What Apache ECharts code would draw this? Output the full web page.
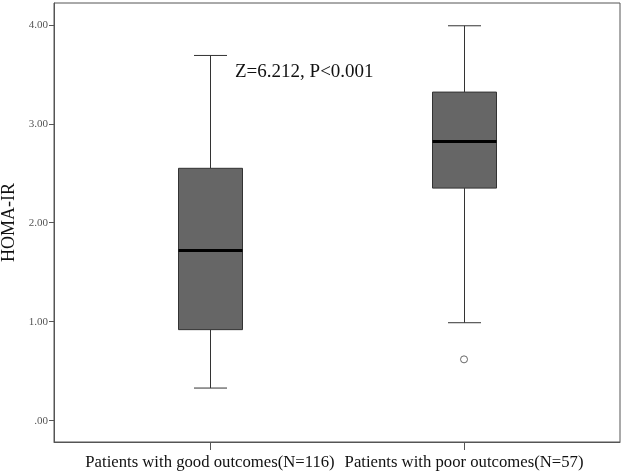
<!DOCTYPE html>
<html>
<head>
<meta charset="utf-8">
<script src="https://cdn.jsdelivr.net/npm/echarts@6/dist/echarts.min.js"></script>
<style>
  html, body { margin: 0; padding: 0; background: #fff; }
  #chart { width: 623px; height: 474px; }
</style>
</head>
<body>
<div id="chart"></div>
<script>
// groups and their x positions on the base axis
var groups = ["Patients with good outcomes(N=116)", "Patients with poor outcomes(N=57)"];
var groupPos = [1, 2];
// [min, Q1, median, Q3, max]
var boxStats = [
  [0.33, 0.92, 1.72, 2.55, 3.69],
  [0.99, 2.35, 2.82, 3.32, 3.99]
];
var outliers = [[2, 0.62]];
var yTicks = [0, 1, 2, 3, 4];

var chart = echarts.init(document.getElementById("chart"));

var boxData = boxStats.map(function (s, i) {
  return [groupPos[i]].concat(s);
});

// SPSS-like box: half-width whisker caps, thick median line
function renderBox(params, api) {
  var x = api.value(0);
  var pMin = api.coord([x, api.value(1)]);
  var pQ1 = api.coord([x, api.value(2)]);
  var pMed = api.coord([x, api.value(3)]);
  var pQ3 = api.coord([x, api.value(4)]);
  var pMax = api.coord([x, api.value(5)]);
  var cx = Math.round(pMin[0]) + 0.5;
  var hw = 32, cw = 16.5;
  var lineStyle = { stroke: "#333", lineWidth: 1 };
  return {
    type: "group",
    children: [
      { type: "line", shape: { x1: cx, y1: pMax[1], x2: cx, y2: pQ3[1] }, style: lineStyle },
      { type: "line", shape: { x1: cx, y1: pQ1[1], x2: cx, y2: pMin[1] }, style: lineStyle },
      { type: "line", shape: { x1: cx - cw, y1: pMax[1], x2: cx + cw, y2: pMax[1] }, style: lineStyle },
      { type: "line", shape: { x1: cx - cw, y1: pMin[1], x2: cx + cw, y2: pMin[1] }, style: lineStyle },
      { type: "rect", shape: { x: cx - hw, y: pQ3[1], width: hw * 2, height: pQ1[1] - pQ3[1] },
        style: { fill: "#666666", stroke: "#333", lineWidth: 1 } },
      { type: "line", shape: { x1: cx - hw, y1: pMed[1], x2: cx + hw, y2: pMed[1] },
        style: { stroke: "#000", lineWidth: 3 } }
    ]
  };
}

var option = {
  animation: false,
  grid: {
    left: 54, right: 3, top: 3, bottom: 32,
    outerBoundsMode: "none",
    containLabel: false,
    show: true, borderColor: "#555", borderWidth: 1
  },
  xAxis: {
    type: "value",
    min: 0.386,
    max: 2.614,
    splitLine: { show: false },
    axisLine: { show: true, onZero: false, lineStyle: { color: "#555" } },
    axisTick: { show: true, length: 8, customValues: groupPos, lineStyle: { color: "#555" } },
    axisLabel: {
      customValues: groupPos,
      margin: 12,
      fontFamily: "Liberation Serif",
      fontSize: 16.7,
      color: "#111",
      formatter: function (v) { return groups[groupPos.indexOf(v)] || ""; }
    }
  },
  yAxis: {
    type: "value",
    min: -0.215,
    max: 4.22,
    name: "HOMA-IR",
    nameLocation: "middle",
    nameGap: 31,
    nameTextStyle: { fontFamily: "Liberation Serif", fontSize: 18, color: "#111" },
    splitLine: { show: false },
    axisLine: { show: true, onZero: false, lineStyle: { color: "#555" } },
    axisTick: { show: true, length: 5, customValues: yTicks, lineStyle: { color: "#555" } },
    axisLabel: {
      customValues: yTicks,
      margin: 6,
      fontFamily: "Liberation Serif",
      fontSize: 11,
      color: "#555",
      formatter: function (v) { return v === 0 ? ".00" : v.toFixed(2); }
    }
  },
  graphic: [{
    type: "text",
    left: 235,
    top: 63,
    style: { text: "Z=6.212, P<0.001", font: "19px 'Liberation Serif'", fill: "#111" }
  }],
  series: [
    {
      type: "custom",
      data: boxData,
      encode: { x: 0, y: [1, 2, 3, 4, 5] },
      renderItem: renderBox
    },
    {
      type: "scatter",
      symbol: "circle",
      symbolSize: 7,
      data: outliers,
      itemStyle: { color: "#fff", borderColor: "#444", borderWidth: 1 }
    }
  ]
};
chart.setOption(option);
</script>
</body>
</html>
